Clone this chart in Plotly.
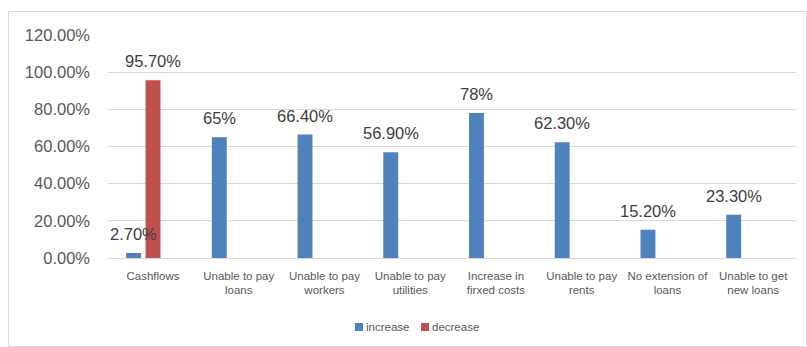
import plotly.graph_objects as go

# Survey results: share of firms reporting each effect
categories = [
    "Cashflows",
    "Unable to pay<br>loans",
    "Unable to pay<br>workers",
    "Unable to pay<br>utilities",
    "Increase in<br>firxed costs",
    "Unable to pay<br>rents",
    "No extension of<br>loans",
    "Unable to get<br>new loans",
]
increase = [2.7, 65.0, 66.4, 56.9, 78.0, 62.3, 15.2, 23.3]
increase_decimals = [2, 0, 2, 2, 0, 2, 2, 2]
decrease = [95.7, None, None, None, None, None, None, None]
decrease_decimals = [2, None, None, None, None, None, None, None]
y_ticks = [0, 20, 40, 60, 80, 100, 120]

BLUE = "#4F81BD"
RED = "#C0504D"
GRID = "#D9D9D9"
FONT = "Liberation Sans"

# plot-area geometry in pixels
PL, PR, PT, PB = 108, 796, 35, 258
W, H = 807, 347


def px_x(px):
    return (px - PL) / (PR - PL)


def px_y(py):
    return (PB - py) / (PB - PT)


BAR_W = 0.174
BLUE_OFF = -0.314
RED_OFF = -0.087

series = [
    ("increase", increase, increase_decimals, BLUE, BLUE_OFF),
    ("decrease", decrease, decrease_decimals, RED, RED_OFF),
]

fig = go.Figure()
for name, vals, _, color, off in series:
    fig.add_trace(go.Bar(
        name=name, x=categories, y=vals, marker_color=color,
        width=BAR_W, offset=off, marker_line_width=0, showlegend=False,
    ))

# value labels above each bar
CAT_PX = (PR - PL) / len(categories)
annotations = []
for _, vals, decs, _, off in series:
    for cat, v, d in zip(categories, vals, decs):
        if v is None:
            continue
        annotations.append(dict(
            x=cat, y=v, xref="x", yref="y",
            text=f"{v:.{d}f}%", showarrow=False,
            xanchor="center", yanchor="bottom",
            xshift=(off + BAR_W / 2) * CAT_PX, yshift=8,
            font=dict(family=FONT, size=16.5, color="#404040"),
        ))

# chart border
shapes = [dict(
    type="rect", xref="paper", yref="paper",
    x0=px_x(8.5), x1=px_x(806.5), y0=px_y(346.5), y1=px_y(11.5),
    line=dict(color=GRID, width=1), fillcolor="rgba(0,0,0,0)", layer="below",
)]

# legend: small square swatch followed by series name
LEG_Y = 327
for (name, _, _, color, _), sx in zip(series, (355, 421)):
    shapes.append(dict(
        type="rect", xref="paper", yref="paper",
        x0=px_x(sx), x1=px_x(sx + 8), y0=px_y(LEG_Y + 4), y1=px_y(LEG_Y - 4),
        line=dict(width=0), fillcolor=color,
    ))
    annotations.append(dict(
        x=px_x(sx + 9), y=px_y(LEG_Y), xref="paper", yref="paper",
        text=name, showarrow=False, xanchor="left", yanchor="middle",
        font=dict(family=FONT, size=11.5, color="#595959"),
    ))

fig.update_layout(
    width=W, height=H,
    margin=dict(l=PL, r=W - PR, t=PT, b=H - PB),
    paper_bgcolor="white", plot_bgcolor="white",
    barmode="overlay",
    showlegend=False,
    annotations=annotations,
    shapes=shapes,
)
fig.update_xaxes(
    type="category", showgrid=False, showline=False, zeroline=False,
    tickfont=dict(family=FONT, size=11.5, color="#595959"),
    ticks="", ticklabelstandoff=9,
)
fig.update_yaxes(
    range=[0, 120], tickvals=y_ticks,
    ticktext=[f"{v:.2f}%" for v in y_ticks],
    showgrid=True, gridcolor=GRID, gridwidth=1,
    zeroline=True, zerolinecolor=GRID, zerolinewidth=1,
    showline=False, ticks="", ticklabelstandoff=17,
    tickfont=dict(family=FONT, size=16.5, color="#595959"),
)

fig.write_html("out.html")
